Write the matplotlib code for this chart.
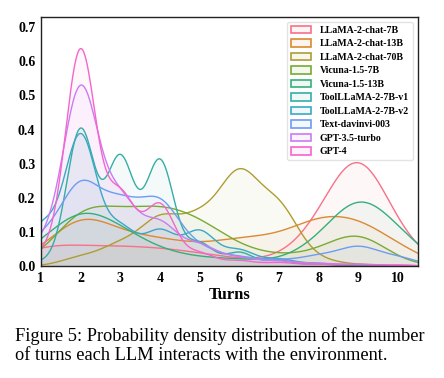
import numpy as np
import matplotlib
matplotlib.use("Agg")
import matplotlib.pyplot as plt
import seaborn as sns
from matplotlib.patches import Patch

turns = np.arange(1, 11)

models = ['LLaMA-2-chat-7B', 'LLaMA-2-chat-13B', 'LLaMA-2-chat-70B', 'Vicuna-1.5-7B',
          'Vicuna-1.5-13B', 'ToolLLaMA-2-7B-v1', 'ToolLLaMA-2-7B-v2', 'Text-davinvi-003',
          'GPT-3.5-turbo', 'GPT-4']

# share of episodes ending at each turn count (1..10)
llama7b = [0.07, 0.06, 0.06, 0.055, 0.04, 0.02, 0.015, 0.12, 0.47, 0.08]
llama13b = [0.04, 0.185, 0.097, 0.086, 0.06, 0.089, 0.086, 0.158, 0.15, 0.066]
llama70b = [0.0, 0.03, 0.07, 0.158, 0.151, 0.31, 0.2, 0.02, 0.005, 0.0]
vicuna7b = [0.01, 0.21, 0.16, 0.19, 0.15, 0.055, 0.03, 0.04, 0.135, 0.0074]
vicuna13b = [0.066, 0.2, 0.12, 0.047, 0.025, 0.023, 0.01, 0.074, 0.26, 0.115]
toolllama_v1 = [0.01, 0.35, 0.277, 0.27, 0.058, 0.035, 0.015, 0.005, 0.0, 0.0]
toolllama_v2 = [0.113, 0.38, 0.108, 0.1, 0.1, 0.045, 0.02, 0.008, 0.0, 0.0]
davinci = [0.088, 0.274, 0.197, 0.215, 0.055, 0.0275, 0.017, 0.0325, 0.065, 0.029]
gpt35 = [0.06, 0.565, 0.2, 0.13, 0.063, 0.025, 0.015, 0.008, 0.005, 0.003]
gpt4 = [0.03, 0.6, 0.195, 0.169, 0.035, 0.015, 0.01, 0.005, 0.005, 0.003]

# kde bandwidth per model
bandwidths = [0.72, 0.7, 0.5, 0.7, 0.7, 0.35, 0.4, 0.5, 0.44, 0.38]

shares = [llama7b, llama13b, llama70b, vicuna7b, vicuna13b,
          toolllama_v1, toolllama_v2, davinci, gpt35, gpt4]


def kde(grid, w, h):
    w = np.array(w)
    d = grid[:, None] - turns[None, :]
    k = np.exp(-0.5 * (d / h) ** 2) / (h * np.sqrt(2 * np.pi))
    return k @ w


plt.rcParams['font.family'] = ['Liberation Serif', 'DejaVu Serif']
fig = plt.figure(figsize=(4.44, 3.78), dpi=100)
ax = fig.add_axes([0.092, 0.296, 0.849, 0.659])

colors = sns.color_palette("husl", 10)
grid = np.linspace(1, 10.5, 600)
handles = []
for name, w, h, c in zip(models, shares, bandwidths, colors):
    y = kde(grid, w, h)
    ax.fill_between(grid, y, color=c, alpha=0.05, lw=0)
    ax.plot(grid, y, color=c, lw=1.0)
    handles.append(Patch(facecolor=(*c, 0.08), edgecolor=c, lw=1.2, label=name))

ax.set_xlim(1, 10.5)
ax.set_ylim(0, 0.73)
ax.set_xticks(range(1, 11))
ax.set_yticks(np.arange(0, 0.71, 0.1))
ax.set_yticklabels(['%.1f' % v for v in np.arange(0, 0.71, 0.1)])
ax.tick_params(length=0, pad=4, labelsize=10)
for lab in ax.get_xticklabels() + ax.get_yticklabels():
    lab.set_fontweight('bold')
ax.set_xlabel('Turns', fontsize=12, fontweight='bold', labelpad=2)
for s in ax.spines.values():
    s.set_linewidth(1.0)
    s.set_color('#222222')

leg = ax.legend(handles=handles, loc='upper right', frameon=True,
                prop={'weight': 'bold', 'size': 7.1}, handlelength=2.0, handleheight=0.75,
                handletextpad=0.9, labelspacing=0.45, borderaxespad=0.5, fancybox=True)
leg.get_frame().set_edgecolor('#dddddd')

fig.text(0.034, 0.047, 'Figure 5: Probability density distribution of the number\n'
         'of turns each LLM interacts with the environment.',
         fontsize=13.2, ha='left', va='baseline', linespacing=1.15)

fig.savefig('out.png', dpi=100)
